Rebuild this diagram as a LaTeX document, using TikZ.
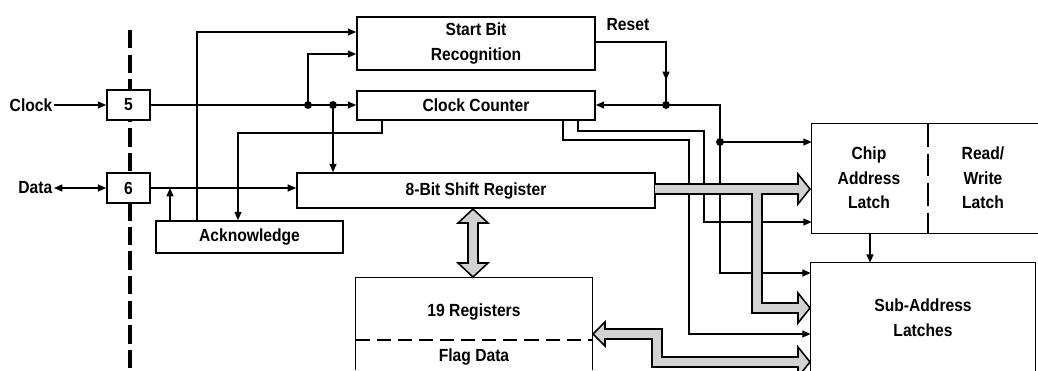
\documentclass[tikz,border=0pt]{standalone}
\usepackage{fontspec}
\setmainfont{Liberation Sans}[FakeStretch=0.89]
\usetikzlibrary{arrows.meta}
\begin{document}
\begin{tikzpicture}[x=0.025cm,y=-0.025cm,
  box/.style={draw,line width=1.1pt,fill=white,inner sep=0pt,font=\fontsize{12.5}{17.5}\selectfont\bfseries,align=center},
  conn/.style={line width=1pt,-{Triangle[length=6pt,width=5pt]}},
  wire/.style={line width=1pt},
  bus/.style={draw,line width=1.1pt,fill=gray!35,line join=miter},
  lbl/.style={font=\fontsize{12.5}{17.5}\selectfont\bfseries,align=center,inner sep=1pt}]
\useasboundingbox (0,0) rectangle (1038,370);

% pin divider
\draw[line width=2.2pt,dash pattern=on 13pt off 4.5pt] (130,30) -- (130,370);

% boxes
\node[box,minimum width=1.075cm,minimum height=0.75cm] (b5) at (128.5,105) {5};
\node[box,minimum width=1.075cm,minimum height=0.75cm] (b6) at (128.5,188) {6};
\node[box,minimum width=5.95cm,minimum height=1.325cm] (sbr) at (476,43.5) {Start Bit\\Recognition};
\node[box,minimum width=5.95cm,minimum height=0.725cm] (cc) at (476,105.5) {Clock Counter};
\node[box,minimum width=8.95cm,minimum height=0.875cm] (sr) at (476,190.5) {8-Bit Shift Register};
\node[box,minimum width=4.675cm,minimum height=0.8cm] (ack) at (249.5,237) {Acknowledge};

% open boxes
\node[minimum width=5.9cm,minimum height=2.3cm,inner sep=0pt] (reg) at (474,324) {};
\draw[line width=1.1pt] (reg.south west) -- (reg.north west) -- (reg.north east) -- (reg.south east);
\draw[line width=0.9pt,dash pattern=on 10pt off 5pt] (reg.west |- 0,340) -- (reg.east |- 0,340);
\node[lbl] (regt) at (474,312) {19 Registers};
\node[lbl] (flag) at (474,357) {Flag Data};

\node[minimum width=5.7cm,minimum height=2.725cm,inner sep=0pt] (cal) at (926,178.5) {};
\draw[line width=1.1pt] (cal.north east) -- (cal.north west) -- (cal.south west) -- (cal.south east);
\draw[line width=1.4pt,dash pattern=on 16pt off 5pt] (928,124) -- (928,233);
\node[lbl] (calt) at (869,178) {Chip\\Address\\Latch};
\node[lbl] (rwt) at (983,178) {Read/\\Write\\Latch};

\node[minimum width=5.6cm,minimum height=2.725cm,inner sep=0pt] (sal) at (923,317.5) {};
\draw[line width=1.1pt] (sal.south west) -- (sal.north west) -- (sal.north east) -- (sal.south east);
\node[lbl] (salt) at (923,318) {Sub-Address\\Latches};

% external labels
\node[lbl,anchor=east] (clk) at (54,105) {Clock};
\node[lbl,anchor=east] (dat) at (54,188) {Data};
\node[lbl,anchor=west] (rst) at (605,25) {Reset};

% junctions
\coordinate (j1) at (308,105);
\coordinate (j2) at (333,105);
\coordinate (jr) at (666,105);
\coordinate (j3) at (720,142);

% connectors
\draw[conn] (clk.east) -- (b5.west);
\draw[line width=1pt,{Triangle[length=6pt,width=5pt]}-{Triangle[length=6pt,width=5pt]}] (dat.east) -- (b6.west);
\draw[conn] (b5.east) -- (b5.east -| cc.west);
\draw[conn] (j1) |- (sbr.west |- 0,54);
\draw[conn] (j2) -- (j2 |- sr.north);
\draw[conn] (b6.east) -- (b6.east -| sr.west);
\draw[conn] (ack.north -| 197,0) |- (sbr.west |- 0,32);
\draw[conn] (ack.north -| 170,0) -- (b6.east -| 170,0);
\draw[conn] (cc.south -| 382,0) |- (238,133) -- (ack.north -| 238,0);
\draw[conn] (sbr.east |- 0,42) -| (666,80);
\draw[wire] (666,78) -- (jr);
\draw[conn] (jr) -- (jr -| cc.east);
\draw[conn] (jr) -| (j3) |- (sal.west |- 0,273);
\draw[conn] (j3) -- (j3 -| cal.west);
\draw[conn] (cc.south -| 563,0) |- (689,140) |- (sal.west |- 0,334);
\draw[conn] (cc.south -| 578,0) |- (704,131) |- (cal.west |- 0,222);
\draw[conn] (cal.south -| 870,0) -- (sal.north -| 870,0);

\foreach \j in {j1,j2,jr,j3} \fill (\j) circle[radius=2.8pt];

% buses
\draw[bus] (655,184) -- (798,184) -- (798,174) -- (810,189) -- (798,204) -- (798,194)
  -- (762,194) -- (762,303) -- (798,303) -- (798,293) -- (810,308) -- (798,323) -- (798,313)
  -- (752,313) -- (752,194) -- (655,194);
\draw[bus] (593,334) -- (605,322) -- (605,329) -- (662,329) -- (662,357) -- (798,357) -- (798,347)
  -- (810,362) -- (798,377) -- (798,367) -- (652,367) -- (652,339) -- (605,339) -- (605,346) -- cycle;
\draw[bus] (473,209) -- (488,223) -- (478,223) -- (478,263) -- (488,263) -- (473,277)
  -- (458,263) -- (468,263) -- (468,223) -- (458,223) -- cycle;
\end{tikzpicture}
\end{document}
